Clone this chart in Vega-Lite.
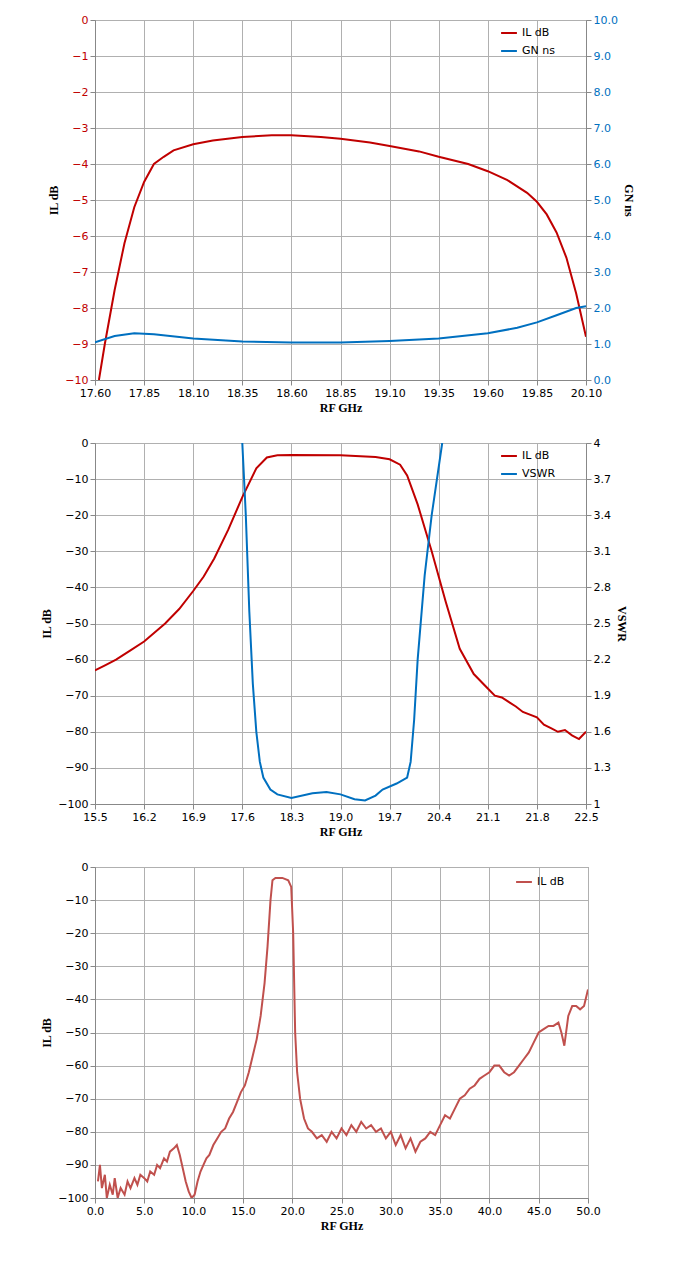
{
  "$schema": "https://vega.github.io/schema/vega-lite/v6.json",
  "background": "white",
  "padding": {"left": 40, "top": 13, "right": 10, "bottom": 5},
  "spacing": 22,
  "config": {
    "view": {"stroke": "#888"},
    "axis": {"labelFont": "DejaVu Sans", "labelFontSize": 11, "titleFont": "Liberation Serif", "titleFontSize": 12, "titleFontWeight": "bold", "gridColor": "#b0b0b0", "domainColor": "#888", "tickColor": "#888", "labelColor": "black", "titleColor": "black"},
    "legend": {"labelFont": "DejaVu Sans", "labelFontSize": 11, "symbolType": "stroke", "symbolStrokeWidth": 2, "symbolSize": 250, "rowPadding": 4}
  },
  "datasets": {
    "il1": [
      {"f": 17.62, "v": -10}, {"f": 17.65, "v": -9}, {"f": 17.7, "v": -7.5}, {"f": 17.75, "v": -6.2}, {"f": 17.8, "v": -5.2}, {"f": 17.85, "v": -4.5}, {"f": 17.9, "v": -4.0}, {"f": 17.95, "v": -3.8}, {"f": 18.0, "v": -3.62}, {"f": 18.1, "v": -3.45}, {"f": 18.2, "v": -3.35}, {"f": 18.35, "v": -3.25}, {"f": 18.5, "v": -3.2}, {"f": 18.6, "v": -3.2}, {"f": 18.75, "v": -3.25}, {"f": 18.85, "v": -3.3}, {"f": 19.0, "v": -3.4}, {"f": 19.1, "v": -3.5}, {"f": 19.25, "v": -3.65}, {"f": 19.35, "v": -3.8}, {"f": 19.5, "v": -4.0}, {"f": 19.6, "v": -4.2}, {"f": 19.7, "v": -4.45}, {"f": 19.8, "v": -4.8}, {"f": 19.85, "v": -5.05}, {"f": 19.9, "v": -5.4}, {"f": 19.95, "v": -5.9}, {"f": 20.0, "v": -6.6}, {"f": 20.05, "v": -7.6}, {"f": 20.1, "v": -8.8}
    ],
    "gn1": [
      {"f": 17.6, "v": 1.05}, {"f": 17.7, "v": 1.22}, {"f": 17.8, "v": 1.3}, {"f": 17.9, "v": 1.27}, {"f": 18.1, "v": 1.15}, {"f": 18.35, "v": 1.07}, {"f": 18.6, "v": 1.04}, {"f": 18.85, "v": 1.04}, {"f": 19.1, "v": 1.08}, {"f": 19.35, "v": 1.15}, {"f": 19.6, "v": 1.3}, {"f": 19.75, "v": 1.45}, {"f": 19.85, "v": 1.6}, {"f": 19.95, "v": 1.8}, {"f": 20.05, "v": 2.0}, {"f": 20.1, "v": 2.05}
    ],
    "il2": [
      {"f": 15.5, "v": -63}, {"f": 15.65, "v": -61.5}, {"f": 15.8, "v": -60}, {"f": 16.0, "v": -57.5}, {"f": 16.2, "v": -55}, {"f": 16.5, "v": -50}, {"f": 16.7, "v": -46}, {"f": 16.9, "v": -41}, {"f": 17.05, "v": -37}, {"f": 17.2, "v": -32}, {"f": 17.4, "v": -24}, {"f": 17.6, "v": -15}, {"f": 17.8, "v": -7}, {"f": 17.95, "v": -4}, {"f": 18.1, "v": -3.4}, {"f": 18.3, "v": -3.3}, {"f": 19.0, "v": -3.4}, {"f": 19.5, "v": -3.9}, {"f": 19.7, "v": -4.5}, {"f": 19.85, "v": -6}, {"f": 19.95, "v": -9}, {"f": 20.1, "v": -17}, {"f": 20.3, "v": -30}, {"f": 20.5, "v": -44}, {"f": 20.7, "v": -57}, {"f": 20.9, "v": -64}, {"f": 21.1, "v": -68}, {"f": 21.2, "v": -70}, {"f": 21.3, "v": -70.5}, {"f": 21.5, "v": -73}, {"f": 21.6, "v": -74.5}, {"f": 21.8, "v": -76}, {"f": 21.9, "v": -78}, {"f": 22.0, "v": -79}, {"f": 22.1, "v": -80}, {"f": 22.2, "v": -79.5}, {"f": 22.3, "v": -81}, {"f": 22.4, "v": -82}, {"f": 22.5, "v": -80}
    ],
    "vs2": [
      {"f": 17.6, "v": 4.0}, {"f": 17.65, "v": 3.4}, {"f": 17.7, "v": 2.6}, {"f": 17.75, "v": 2.0}, {"f": 17.8, "v": 1.6}, {"f": 17.85, "v": 1.35}, {"f": 17.9, "v": 1.22}, {"f": 18.0, "v": 1.12}, {"f": 18.1, "v": 1.08}, {"f": 18.3, "v": 1.05}, {"f": 18.6, "v": 1.09}, {"f": 18.8, "v": 1.1}, {"f": 19.0, "v": 1.08}, {"f": 19.2, "v": 1.04}, {"f": 19.35, "v": 1.03}, {"f": 19.5, "v": 1.07}, {"f": 19.6, "v": 1.12}, {"f": 19.8, "v": 1.17}, {"f": 19.95, "v": 1.22}, {"f": 20.0, "v": 1.35}, {"f": 20.05, "v": 1.7}, {"f": 20.1, "v": 2.2}, {"f": 20.2, "v": 2.9}, {"f": 20.3, "v": 3.4}, {"f": 20.45, "v": 4.0}
    ],
    "il3": [
      {"f": 0.3, "v": -95}, {"f": 0.5, "v": -90}, {"f": 0.7, "v": -97}, {"f": 1.0, "v": -93}, {"f": 1.2, "v": -100}, {"f": 1.5, "v": -96}, {"f": 1.8, "v": -99}, {"f": 2.0, "v": -94}, {"f": 2.3, "v": -100}, {"f": 2.6, "v": -97}, {"f": 3.0, "v": -99}, {"f": 3.3, "v": -95}, {"f": 3.6, "v": -97}, {"f": 4.0, "v": -94}, {"f": 4.3, "v": -96}, {"f": 4.6, "v": -93}, {"f": 5.0, "v": -94}, {"f": 5.3, "v": -95}, {"f": 5.6, "v": -92}, {"f": 6.0, "v": -93}, {"f": 6.3, "v": -90}, {"f": 6.6, "v": -91}, {"f": 7.0, "v": -88}, {"f": 7.3, "v": -89}, {"f": 7.6, "v": -86}, {"f": 8.0, "v": -85}, {"f": 8.3, "v": -84}, {"f": 8.6, "v": -87}, {"f": 8.9, "v": -91}, {"f": 9.2, "v": -95}, {"f": 9.5, "v": -98}, {"f": 9.8, "v": -100}, {"f": 10.1, "v": -99}, {"f": 10.4, "v": -95}, {"f": 10.7, "v": -92}, {"f": 11.0, "v": -90}, {"f": 11.3, "v": -88}, {"f": 11.6, "v": -87}, {"f": 12.0, "v": -84}, {"f": 12.4, "v": -82}, {"f": 12.8, "v": -80}, {"f": 13.2, "v": -79}, {"f": 13.6, "v": -76}, {"f": 14.0, "v": -74}, {"f": 14.4, "v": -71}, {"f": 14.8, "v": -68}, {"f": 15.2, "v": -66}, {"f": 15.6, "v": -62}, {"f": 16.0, "v": -57}, {"f": 16.4, "v": -52}, {"f": 16.8, "v": -45}, {"f": 17.2, "v": -35}, {"f": 17.5, "v": -24}, {"f": 17.8, "v": -10}, {"f": 18.0, "v": -4}, {"f": 18.3, "v": -3.3}, {"f": 19.0, "v": -3.3}, {"f": 19.6, "v": -4}, {"f": 19.9, "v": -6}, {"f": 20.1, "v": -20}, {"f": 20.3, "v": -50}, {"f": 20.5, "v": -62}, {"f": 20.8, "v": -70}, {"f": 21.2, "v": -76}, {"f": 21.6, "v": -79}, {"f": 22.0, "v": -80}, {"f": 22.5, "v": -82}, {"f": 23.0, "v": -81}, {"f": 23.5, "v": -83}, {"f": 24.0, "v": -80}, {"f": 24.5, "v": -82}, {"f": 25.0, "v": -79}, {"f": 25.5, "v": -81}, {"f": 26.0, "v": -78}, {"f": 26.5, "v": -80}, {"f": 27.0, "v": -77}, {"f": 27.5, "v": -79}, {"f": 28.0, "v": -78}, {"f": 28.5, "v": -80}, {"f": 29.0, "v": -79}, {"f": 29.5, "v": -82}, {"f": 30.0, "v": -80}, {"f": 30.5, "v": -84}, {"f": 31.0, "v": -81}, {"f": 31.5, "v": -85}, {"f": 32.0, "v": -82}, {"f": 32.5, "v": -86}, {"f": 33.0, "v": -83}, {"f": 33.5, "v": -82}, {"f": 34.0, "v": -80}, {"f": 34.5, "v": -81}, {"f": 35.0, "v": -78}, {"f": 35.5, "v": -75}, {"f": 36.0, "v": -76}, {"f": 36.5, "v": -73}, {"f": 37.0, "v": -70}, {"f": 37.5, "v": -69}, {"f": 38.0, "v": -67}, {"f": 38.5, "v": -66}, {"f": 39.0, "v": -64}, {"f": 39.5, "v": -63}, {"f": 40.0, "v": -62}, {"f": 40.5, "v": -60}, {"f": 41.0, "v": -60}, {"f": 41.5, "v": -62}, {"f": 42.0, "v": -63}, {"f": 42.5, "v": -62}, {"f": 43.0, "v": -60}, {"f": 43.5, "v": -58}, {"f": 44.0, "v": -56}, {"f": 44.5, "v": -53}, {"f": 45.0, "v": -50}, {"f": 45.5, "v": -49}, {"f": 46.0, "v": -48}, {"f": 46.5, "v": -48}, {"f": 47.0, "v": -47}, {"f": 47.3, "v": -50}, {"f": 47.6, "v": -54}, {"f": 48.0, "v": -45}, {"f": 48.4, "v": -42}, {"f": 48.8, "v": -42}, {"f": 49.2, "v": -43}, {"f": 49.6, "v": -42}, {"f": 50.0, "v": -37}
    ]
  },
  "vconcat": [
    {
      "width": 491, "height": 360,
      "resolve": {"scale": {"y": "independent"}},
      "encoding": {
        "x": {"field": "f", "type": "quantitative", "title": "RF GHz", "scale": {"domain": [17.6, 20.1], "nice": false}, "axis": {"values": [17.6, 17.85, 18.1, 18.35, 18.6, 18.85, 19.1, 19.35, 19.6, 19.85, 20.1], "format": ".2f", "labelFlush": false}},
        "color": {"datum": "x", "type": "nominal", "scale": {"domain": ["IL dB", "GN ns"], "range": ["#c00000", "#0070c0"]}, "legend": {"title": null, "orient": "none", "legendX": 405, "legendY": 4}}
      },
      "layer": [
        {"data": {"name": "il1"}, "mark": {"type": "line", "strokeWidth": 2, "clip": true},
         "encoding": {"color": {"datum": "IL dB"}, "y": {"field": "v", "type": "quantitative", "title": "IL dB", "scale": {"domain": [-10, 0], "nice": false}, "axis": {"tickCount": 10, "labelColor": "#c00000"}}}},
        {"data": {"name": "gn1"}, "mark": {"type": "line", "strokeWidth": 2, "clip": true},
         "encoding": {"color": {"datum": "GN ns"}, "y": {"field": "v", "type": "quantitative", "title": "GN ns", "scale": {"domain": [0, 10], "nice": false}, "axis": {"orient": "right", "grid": false, "tickCount": 10, "format": ".1f", "labelColor": "#0070c0"}}}}
      ]
    },
    {
      "width": 491, "height": 361,
      "resolve": {"scale": {"y": "independent"}},
      "encoding": {
        "x": {"field": "f", "type": "quantitative", "title": "RF GHz", "scale": {"domain": [15.5, 22.5], "nice": false}, "axis": {"values": [15.5, 16.2, 16.9, 17.6, 18.3, 19.0, 19.7, 20.4, 21.1, 21.8, 22.5], "format": ".1f", "labelFlush": false}},
        "color": {"datum": "x", "type": "nominal", "scale": {"domain": ["IL dB", "VSWR"], "range": ["#c00000", "#0070c0"]}, "legend": {"title": null, "orient": "none", "legendX": 405, "legendY": 4}}
      },
      "layer": [
        {"data": {"name": "il2"}, "mark": {"type": "line", "strokeWidth": 2, "clip": true},
         "encoding": {"color": {"datum": "IL dB"}, "y": {"field": "v", "type": "quantitative", "title": "IL dB", "scale": {"domain": [-100, 0], "nice": false}, "axis": {"tickCount": 10}}}},
        {"data": {"name": "vs2"}, "mark": {"type": "line", "strokeWidth": 2, "clip": true},
         "encoding": {"color": {"datum": "VSWR"}, "y": {"field": "v", "type": "quantitative", "title": "VSWR", "scale": {"domain": [1, 4], "nice": false}, "axis": {"orient": "right", "grid": false, "format": "~g", "values": [1, 1.3, 1.6, 1.9, 2.2, 2.5, 2.8, 3.1, 3.4, 3.7, 4]}}}}
      ]
    },
    {
      "width": 493, "height": 331,
      "data": {"name": "il3"},
      "mark": {"type": "line", "strokeWidth": 2, "clip": true},
      "encoding": {
        "x": {"field": "f", "type": "quantitative", "title": "RF GHz", "scale": {"domain": [0, 50], "nice": false}, "axis": {"tickCount": 10, "format": ".1f", "labelFlush": false}},
        "y": {"field": "v", "type": "quantitative", "title": "IL dB", "scale": {"domain": [-100, 0], "nice": false}, "axis": {"tickCount": 10}},
        "color": {"datum": "IL dB", "type": "nominal", "scale": {"range": ["#c0504d"]}, "legend": {"title": null, "orient": "none", "legendX": 420, "legendY": 6}}
      }
    }
  ],
  "resolve": {"scale": {"color": "independent"}, "legend": {"color": "independent"}}
}
